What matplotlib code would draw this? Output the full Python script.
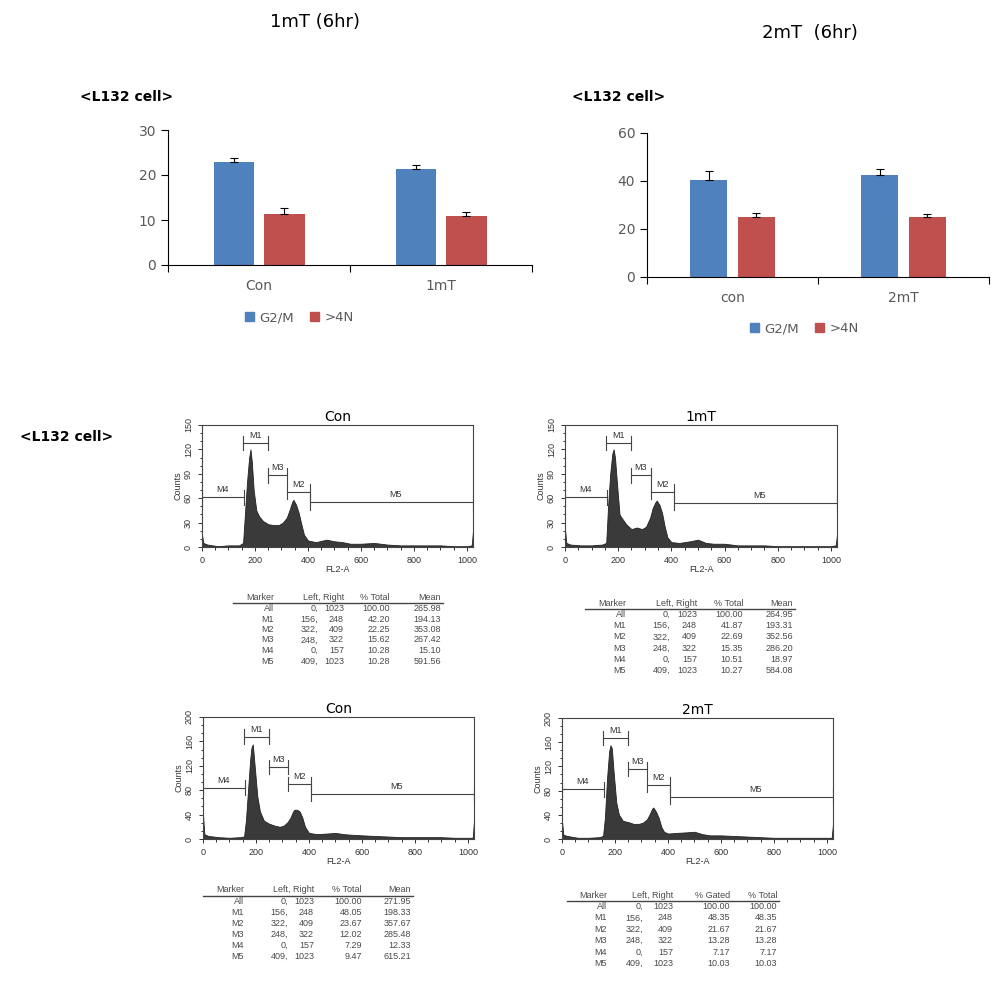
import numpy as np
import matplotlib
matplotlib.use("Agg")
import matplotlib.pyplot as plt
from matplotlib.patches import Patch

W, H = 993, 984

# ---- bar chart data ----
cats_1mT = ["Con", "1mT"]
g2m_1mT = [22.8, 21.3]
g2m_1mT_err = [1.0, 1.0]
n4_1mT = [11.4, 10.9]
n4_1mT_err = [1.2, 0.8]

cats_2mT = ["con", "2mT"]
g2m_2mT = [40.5, 42.5]
g2m_2mT_err = [3.5, 2.5]
n4_2mT = [24.8, 24.8]
n4_2mT_err = [2.0, 1.5]

# ---- histogram data (channel, counts) ----
ch = [0, 5, 20, 60, 100, 140, 155, 162, 170, 178, 183, 188, 195, 205, 215, 230,
      250, 270, 290, 305, 320, 330, 340, 345, 355, 365, 375, 385, 400, 430, 470,
      500, 530, 560, 600, 650, 700, 750, 800, 850, 900, 950, 1000, 1018, 1023]
counts_con1 = [15, 5, 3, 1, 2, 2, 5, 40, 80, 110, 120, 105, 70, 45, 38, 32,
               28, 27, 27, 30, 36, 45, 55, 58, 52, 42, 28, 15, 8, 6, 9,
               7, 6, 4, 4, 5, 3, 2, 2, 2, 2, 1, 1, 2, 20]
counts_1mT = [22, 5, 3, 2, 2, 3, 5, 50, 90, 115, 120, 110, 80, 40, 35, 28,
              22, 24, 22, 25, 36, 48, 55, 57, 52, 42, 25, 12, 6, 5, 7,
              9, 5, 4, 4, 2, 2, 2, 1, 1, 1, 1, 1, 2, 15]
counts_con2 = [40, 8, 5, 3, 2, 3, 4, 30, 80, 130, 150, 155, 120, 70, 45, 30,
               25, 22, 20, 22, 28, 35, 45, 48, 48, 45, 35, 20, 10, 8, 9,
               10, 8, 7, 6, 5, 4, 3, 3, 3, 3, 2, 2, 2, 30]
counts_2mT = [30, 7, 5, 2, 2, 3, 5, 35, 100, 145, 155, 150, 110, 60, 40, 30,
              28, 25, 25, 27, 32, 40, 50, 52, 45, 35, 20, 12, 9, 10, 11,
              12, 8, 6, 6, 5, 4, 3, 2, 2, 2, 2, 2, 2, 25]

marker_names = ["M1", "M2", "M3", "M4", "M5"]
marker_left = [156, 322, 248, 0, 409]
marker_right = [248, 409, 322, 157, 1023]
marker_y_con1 = [128, 68, 88, 61, 55]
marker_y_1mT = [128, 68, 88, 61, 54]
marker_y_con2 = [168, 90, 118, 84, 74]
marker_y_2mT = [167, 90, 116, 82, 70]

# ---- statistics tables ----
tab_head = ["Marker", "Left, Right", "% Total", "Mean"]
tab_head_2mT = ["Marker", "Left, Right", "% Gated", "% Total"]
tab_rows = ["All", "M1", "M2", "M3", "M4", "M5"]
tab_left = ["0,", "156,", "322,", "248,", "0,", "409,"]
tab_right = ["1023", "248", "409", "322", "157", "1023"]
total_con1 = ["100.00", "42.20", "22.25", "15.62", "10.28", "10.28"]
mean_con1 = ["265.98", "194.13", "353.08", "267.42", "15.10", "591.56"]
total_1mT = ["100.00", "41.87", "22.69", "15.35", "10.51", "10.27"]
mean_1mT = ["264.95", "193.31", "352.56", "286.20", "18.97", "584.08"]
total_con2 = ["100.00", "48.05", "23.67", "12.02", "7.29", "9.47"]
mean_con2 = ["271.95", "198.33", "357.67", "285.48", "12.33", "615.21"]
gated_2mT = ["100.00", "48.35", "21.67", "13.28", "7.17", "10.03"]
total_2mT = ["100.00", "48.35", "21.67", "13.28", "7.17", "10.03"]


def rect(x0, y0, x1, y1):
    return [x0 / W, 1 - y1 / H, (x1 - x0) / W, (y1 - y0) / H]


fig = plt.figure(figsize=(W / 100, H / 100), dpi=100)

BLUE = "#4f81bd"
RED = "#c0504d"
GREY = "#595959"


def bar_chart(r, cats, a, ae, b, be, ymax, step, leg_xy):
    ax = fig.add_axes(rect(*r))
    x = np.arange(len(cats)) + 0.5
    w = 0.22
    ax.bar(x - 0.14, a, w, color=BLUE)
    ax.bar(x + 0.14, b, w, color=RED)
    ax.errorbar(x - 0.14, a, yerr=[np.zeros(len(a)), ae], fmt="none",
                ecolor="black", elinewidth=0.8, capsize=3, capthick=0.8)
    ax.errorbar(x + 0.14, b, yerr=[np.zeros(len(b)), be], fmt="none",
                ecolor="black", elinewidth=0.8, capsize=3, capthick=0.8)
    ax.set_xlim(0, len(cats))
    ax.set_ylim(0, ymax)
    ax.set_yticks(np.arange(0, ymax + 1, step))
    ax.set_xticks(np.arange(len(cats) + 1))
    ax.set_xticklabels([])
    ax.set_xticks(x, minor=True)
    ax.set_xticklabels(cats, minor=True)
    ax.tick_params(axis="x", which="minor", length=0, pad=10, labelsize=10,
                   labelcolor=GREY)
    ax.tick_params(axis="x", which="major", length=5)
    ax.tick_params(axis="y", labelsize=10, labelcolor=GREY, length=5)
    for s in ["top", "right"]:
        ax.spines[s].set_visible(False)
    handles = [Patch(color=BLUE, label="G2/M"), Patch(color=RED, label=">4N")]
    ax.legend(handles=handles, loc="center", bbox_to_anchor=leg_xy, ncol=2,
              frameon=False, fontsize=9.5, handlelength=0.7, handleheight=0.7,
              handletextpad=0.4, columnspacing=1.2, labelcolor=GREY)
    return ax


bar_chart((168, 130, 532, 265), cats_1mT, g2m_1mT, g2m_1mT_err, n4_1mT,
          n4_1mT_err, 30, 10, (0.36, -0.39))
bar_chart((647, 133, 989, 277), cats_2mT, g2m_2mT, g2m_2mT_err, n4_2mT,
          n4_2mT_err, 60, 20, (0.46, -0.36))

fig.text(315 / W, 1 - 22 / H, "1mT (6hr)", fontsize=13, ha="center", va="center")
fig.text(810 / W, 1 - 33 / H, "2mT  (6hr)", fontsize=13, ha="center", va="center")
for (tx, ty) in [(80, 97), (572, 97), (20, 437)]:
    fig.text(tx / W, 1 - ty / H, "<L132 cell>", fontsize=10, fontweight="bold",
             ha="left", va="center")

HF = "Liberation Sans"
HC = "#333333"


def histo(r, counts, ymax, ystep, my, title):
    ax = fig.add_axes(rect(*r))
    ax.fill_between(ch, counts, 0, color="#3a3a3a", lw=0.6, edgecolor="#222222")
    ax.set_xlim(0, 1023)
    ax.set_ylim(0, ymax)
    ax.set_xticks(np.arange(0, 1001, 200))
    ax.set_xticks(np.arange(0, 1024, 50), minor=True)
    ax.set_yticks(np.arange(0, ymax + 1, ystep))
    ax.set_yticks(np.arange(0, ymax + 1, ystep / 3), minor=True)
    ax.tick_params(which="both", labelsize=6.5, labelcolor=HC, color=HC,
                   width=0.7)
    ax.tick_params(which="major", length=3)
    ax.tick_params(which="minor", length=1.8)
    for lab in ax.get_yticklabels():
        lab.set_rotation(90)
        lab.set_va("center")
        lab.set_family(HF)
    for lab in ax.get_xticklabels():
        lab.set_family(HF)
    for s in ax.spines.values():
        s.set_color("#444444")
        s.set_linewidth(0.8)
    ax.set_xlabel("FL2-A", fontsize=6.5, labelpad=0, family=HF, color=HC)
    ax.set_ylabel("Counts", fontsize=6.5, labelpad=1, family=HF, color=HC)
    ax.set_title(title, fontsize=10, pad=3)
    h = ymax * 0.06
    for name, lft, rgt, y in zip(marker_names, marker_left, marker_right, my):
        ax.plot([lft, rgt], [y, y], color="#444444", lw=0.8)
        ax.plot([lft, lft], [y - h, y + h], color="#444444", lw=0.8)
        ax.plot([rgt, rgt], [y - h, y + h], color="#444444", lw=0.8)
        xc = (lft + rgt) / 2 if name != "M5" else 730
        ax.text(xc, y + h * 0.4, name, fontsize=6.5, ha="center", va="bottom",
                family=HF, color=HC)
    return ax


histo((202, 425, 473, 547), counts_con1, 150, 30, marker_y_con1, "Con")
histo((565, 425, 837, 547), counts_1mT, 150, 30, marker_y_1mT, "1mT")
histo((203, 717, 474, 839), counts_con2, 200, 40, marker_y_con2, "Con")
histo((562, 718, 833, 839), counts_2mT, 200, 40, marker_y_2mT, "2mT")


def table(cols, head, c3, c4, y_head, dy, x0, x1):
    tc = "#4a4a4a"
    hx = [cols[0], cols[2], cols[3], cols[4]]
    for x, t in zip(hx, head):
        fig.text(x / W, 1 - y_head / H, t, fontsize=6.5, ha="right", va="center",
                 family=HF, color=tc)
    y_line = y_head + 5.5
    fig.add_artist(plt.Line2D([x0 / W, x1 / W], [1 - y_line / H, 1 - y_line / H],
                              color="#444444", lw=1.0))
    for i in range(len(tab_rows)):
        y = 1 - (y_head + 11.5 + i * dy) / H
        vals = [tab_rows[i], tab_left[i], tab_right[i], c3[i], c4[i]]
        for x, t in zip(cols, vals):
            fig.text(x / W, y, t, fontsize=6.5, ha="right", va="center",
                     family=HF, color=tc)


table([274, 318, 344, 390, 441], tab_head, total_con1, mean_con1,
      597, 10.5, 233, 443)
table([626, 670, 697, 743, 793], tab_head, total_1mT, mean_1mT,
      603, 11.2, 585, 795)
table([244, 288, 314, 362, 411], tab_head, total_con2, mean_con2,
      890, 11, 203, 413)
table([607, 643, 673, 730, 777], tab_head_2mT, gated_2mT, total_2mT,
      895, 11.4, 567, 779)

fig.savefig("out.png", dpi=100)
